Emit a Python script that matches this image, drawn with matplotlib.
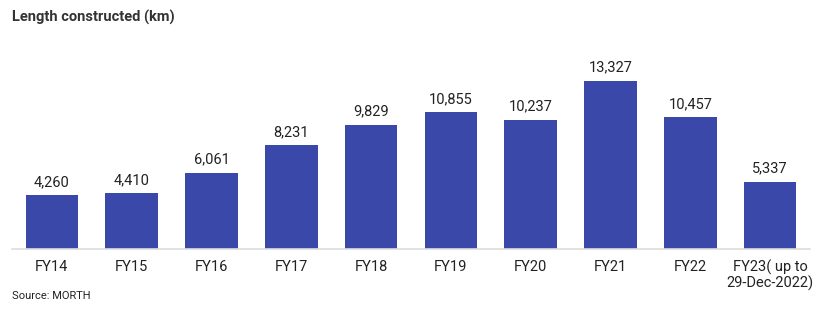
import matplotlib
matplotlib.use('Agg')
import matplotlib.pyplot as plt

years = ['FY14', 'FY15', 'FY16', 'FY17', 'FY18', 'FY19', 'FY20', 'FY21', 'FY22',
         'FY23( up to\n29-Dec-2022)']
length_km = [4260, 4410, 6061, 8231, 9829, 10855, 10237, 13327, 10457, 5337]

plt.rcParams['font.family'] = ['Roboto', 'DejaVu Sans']

fig = plt.figure(figsize=(8.30, 3.14), dpi=100)
ax = fig.add_axes([12 / 830, 65 / 314, 798 / 830, 219 / 314])

x = range(len(years))
bars = ax.bar(x, length_km, width=0.66, color='#3a48aa', zorder=2)
for xi, v in zip(x, length_km):
    ax.text(xi, v + 500, f'{v:,}', ha='center', va='bottom', fontsize=10.5, color='#222222')

ax.set_xlim(-0.5, 9.5)
ax.set_ylim(0, 17373)
ax.set_xticks(list(x))
ax.set_xticklabels(years, fontsize=10.5, color='#222222', linespacing=1.0)
ax.tick_params(axis='x', length=0, pad=8)
ax.set_yticks([])
for s in ['top', 'right', 'left']:
    ax.spines[s].set_visible(False)
ax.spines['bottom'].set_color('#dddddd')
ax.spines['bottom'].set_linewidth(1.2)

fig.text(12 / 830, 1 - 17 / 314, 'Length constructed (km)', fontsize=10.5,
         fontweight='bold', color='#333333', va='center')
fig.text(12 / 830, 1 - 296 / 314, 'Source: MORTH', fontsize=8, color='#222222', va='center')

plt.savefig('out.png', dpi=100)
